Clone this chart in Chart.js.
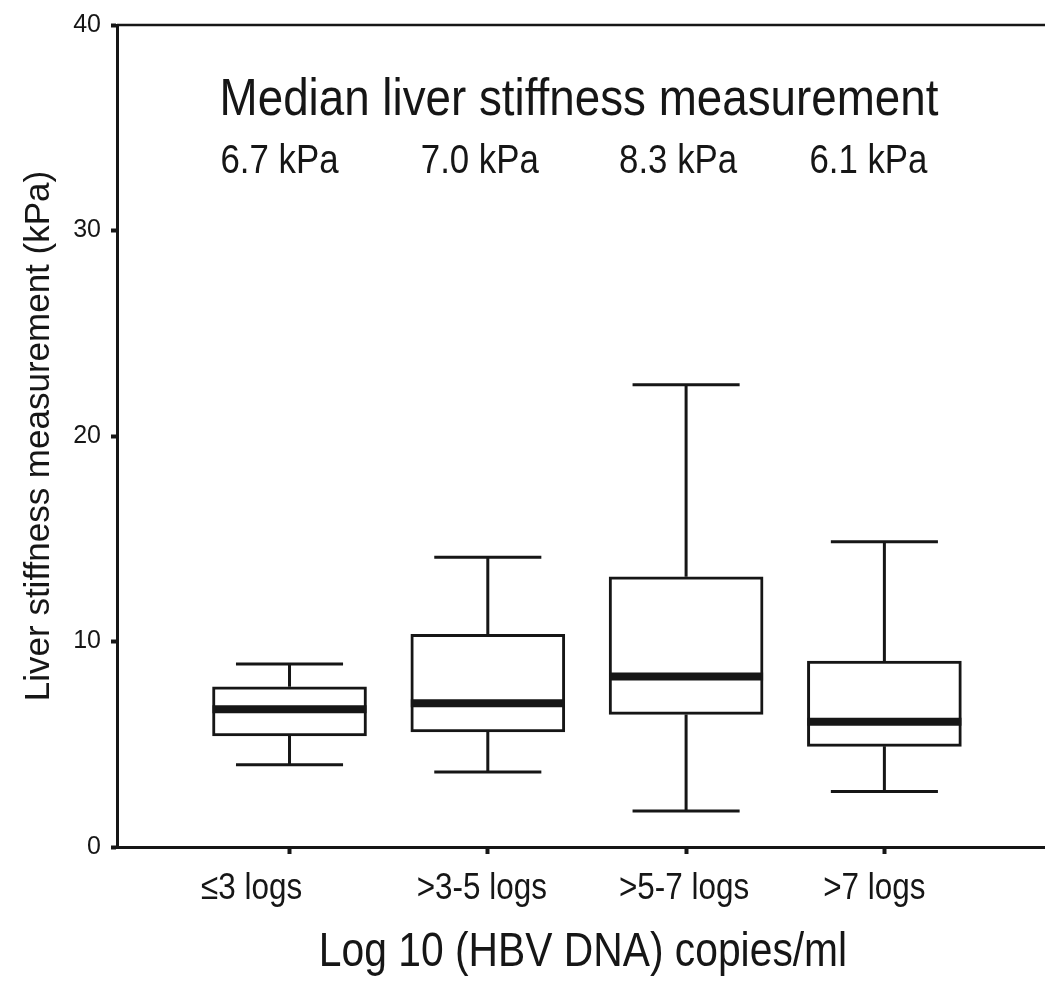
<!DOCTYPE html>
<html>
<head>
<meta charset="utf-8">
<script src="https://cdn.jsdelivr.net/npm/chart.js@4.4.0/dist/chart.umd.min.js"></script>
<style>
  html, body { margin: 0; padding: 0; background: #fff; }
  #wrap { width: 1045px; height: 986px; }
</style>
</head>
<body>
<div id="wrap"><canvas id="chart" width="1045" height="986"></canvas></div>
<script>
// data
const categories = ['≤3 logs', '>3-5 logs', '>5-7 logs', '>7 logs'];
const whiskerLow = [4.0, 3.65, 1.75, 2.7];
const q1 = [5.4, 5.6, 6.45, 4.9];
const medians = [6.7, 7.0, 8.3, 6.1];
const q3 = [7.8, 10.35, 13.15, 9.05];
const whiskerHigh = [8.9, 14.1, 22.5, 14.85];
const medianLabels = ['6.7 kPa', '7.0 kPa', '8.3 kPa', '6.1 kPa'];
const yTicks = [0, 10, 20, 30, 40];

const INK = '#161616';
const FONT = "'Liberation Sans', Arial, sans-serif";
// small horizontal nudges (px) of the printed labels, as in the original figure
const tickLabelNudge = [-38, -6, -2, -10];
const kpaNudge = [-10, -8, -8, -16];

// draw horizontally condensed text (the original uses a narrow face)
function narrowText(ctx, str, x, y, size, squeeze) {
    ctx.save();
    ctx.translate(x, y);
    ctx.scale(squeeze, 1);
    ctx.font = size + 'px ' + FONT;
    ctx.fillText(str, 0, 0);
    ctx.restore();
}

// whiskers, medians, frame line and the text
const boxExtras = {
    id: 'boxExtras',
    afterDatasetsDraw(chart) {
        const { ctx, chartArea, scales: { x, y } } = chart;
        const bars = chart.getDatasetMeta(0).data;
        ctx.save();
        ctx.strokeStyle = INK;
        ctx.lineCap = 'butt';

        // top frame line
        ctx.lineWidth = 2.5;
        ctx.beginPath();
        ctx.moveTo(chartArea.left, chartArea.top);
        ctx.lineTo(chartArea.right, chartArea.top);
        ctx.stroke();

        categories.forEach((c, i) => {
            const cx = x.getPixelForValue(i + 1);
            const half = x.getPixelForValue(i + 1 + 0.27) - cx;
            ctx.lineWidth = 3;
            ctx.beginPath();
            // upper whisker
            ctx.moveTo(cx, y.getPixelForValue(q3[i]));
            ctx.lineTo(cx, y.getPixelForValue(whiskerHigh[i]));
            ctx.moveTo(cx - half, y.getPixelForValue(whiskerHigh[i]));
            ctx.lineTo(cx + half, y.getPixelForValue(whiskerHigh[i]));
            // lower whisker
            ctx.moveTo(cx, y.getPixelForValue(q1[i]));
            ctx.lineTo(cx, y.getPixelForValue(whiskerLow[i]));
            ctx.moveTo(cx - half, y.getPixelForValue(whiskerLow[i]));
            ctx.lineTo(cx + half, y.getPixelForValue(whiskerLow[i]));
            ctx.stroke();

            // median
            const bar = bars[i];
            ctx.lineWidth = 8;
            ctx.beginPath();
            ctx.moveTo(bar.x - bar.width / 2, y.getPixelForValue(medians[i]));
            ctx.lineTo(bar.x + bar.width / 2, y.getPixelForValue(medians[i]));
            ctx.stroke();
        });

        ctx.fillStyle = INK;
        ctx.textAlign = 'center';
        ctx.textBaseline = 'alphabetic';

        // text inside the plot
        narrowText(ctx, 'Median liver stiffness measurement',
            x.getPixelForValue(2.46), y.getPixelForValue(35.6), 52, 0.88);
        medianLabels.forEach((t, i) => {
            narrowText(ctx, t, x.getPixelForValue(i + 1) + kpaNudge[i],
                y.getPixelForValue(32.8), 40, 0.87);
        });

        // category labels and axis title under the x axis
        const base = chartArea.bottom;
        categories.forEach((c, i) => {
            narrowText(ctx, c, x.getPixelForValue(i + 1) + tickLabelNudge[i], base + 52, 37, 0.85);
        });
        narrowText(ctx, 'Log 10 (HBV DNA) copies/ml',
            (chartArea.left + chartArea.right) / 2 + 2, base + 119, 48, 0.85);
        ctx.restore();
    }
};

new Chart(document.getElementById('chart'), {
    type: 'bar',
    data: {
        datasets: [{
            data: categories.map((c, i) => ({ x: i + 1, y: [q1[i], q3[i]] })),
            backgroundColor: '#ffffff',
            borderColor: INK,
            borderWidth: 3,
            borderSkipped: false,
            barThickness: 154
        }]
    },
    options: {
        responsive: false,
        animation: false,
        devicePixelRatio: 1,
        layout: { padding: { top: 23, right: 0, left: 0, bottom: 0 } },
        plugins: {
            legend: { display: false },
            tooltip: { enabled: false }
        },
        scales: {
            x: {
                type: 'linear',
                offset: false,
                min: 0.13,
                max: 4.81,
                afterBuildTicks: s => { s.ticks = categories.map((c, i) => ({ value: i + 1 })); },
                afterFit: s => { s.height = 139; },
                ticks: { display: false },
                grid: { offset: false, drawOnChartArea: false, tickLength: 7, tickWidth: 4, color: INK },
                border: { color: INK, width: 3 }
            },
            y: {
                min: 0,
                max: 40,
                afterBuildTicks: s => { s.ticks = yTicks.map(v => ({ value: v })); },
                afterFit: s => { s.width = 117; },
                ticks: {
                    color: INK,
                    padding: 10,
                    font: { family: FONT, size: 25 }
                },
                grid: { drawOnChartArea: false, tickLength: 6, tickWidth: 4, color: INK },
                border: { color: INK, width: 3 },
                title: {
                    display: true,
                    text: 'Liver stiffness measurement (kPa)',
                    color: INK,
                    font: { family: FONT, size: 35 },
                    padding: { top: 18, bottom: 0 }
                }
            }
        }
    },
    plugins: [boxExtras]
});
</script>
</body>
</html>
